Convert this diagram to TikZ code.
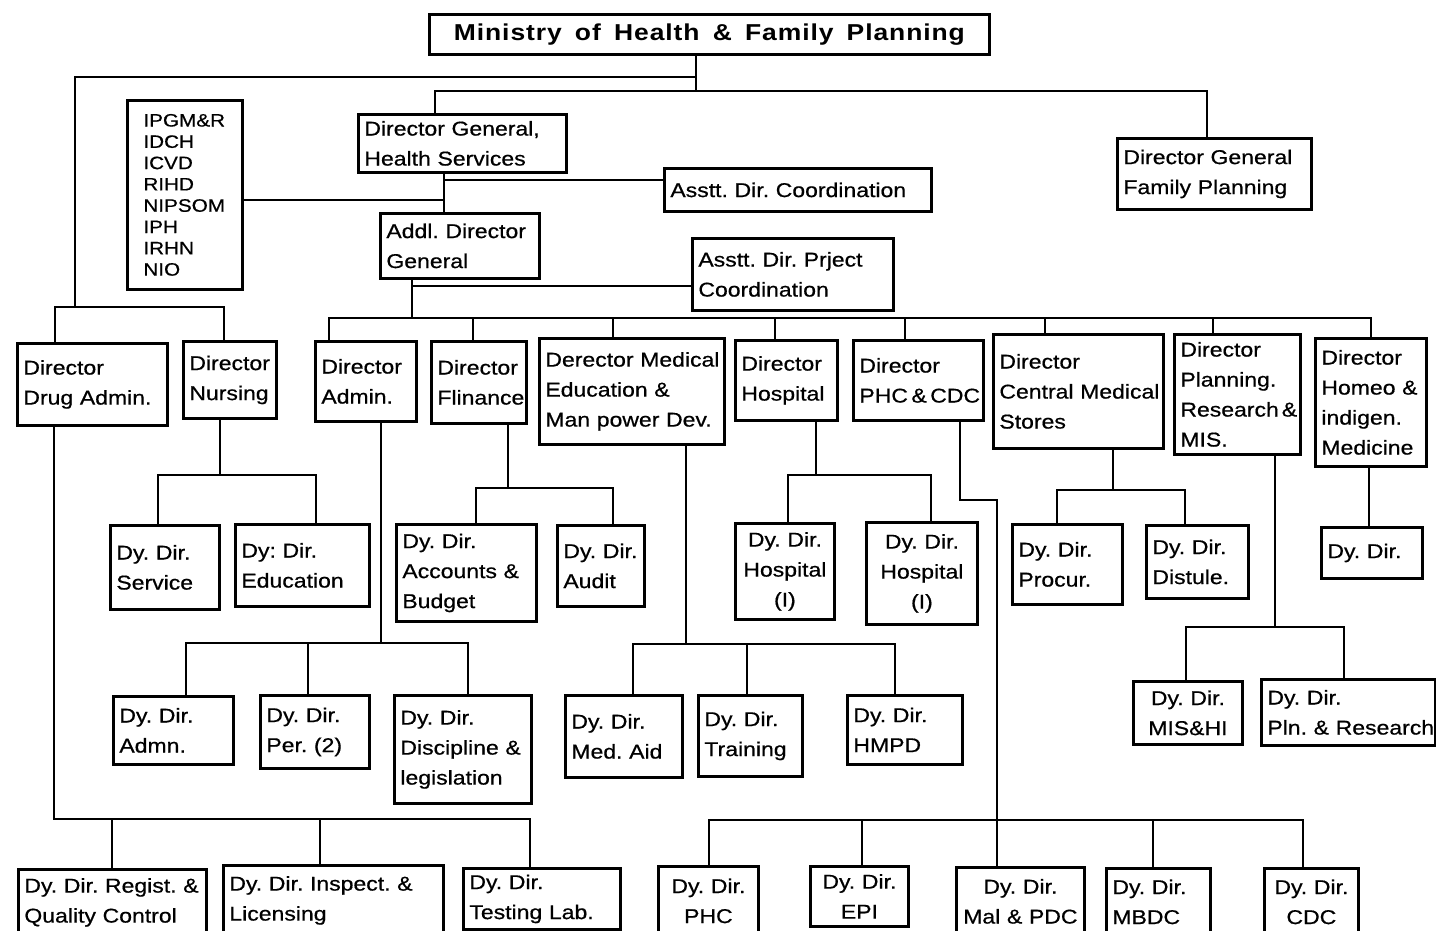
\documentclass[tikz,border=0pt]{standalone}
\usepackage{fontspec}
\setmainfont[FakeStretch=1.15,WordSpace=1.5,FakeBold=0.6]{Liberation Sans}
\newfontfamily\minfamily[FakeStretch=1.15,WordSpace=1.6,LetterSpace=4]{Liberation Sans}
\hyphenpenalty=10000 \exhyphenpenalty=10000
\newcommand\bfont{\fontsize{20}{30}\selectfont\hyphenpenalty=10000 }
\newcommand\ifont{\fontsize{18}{21.3}\selectfont}
\newcommand\mfont{\minfamily\bfseries\fontsize{23}{28}\selectfont}
\newcommand\mkbox[7]{%
  \pgfmathsetlengthmacro\mkW{(#4-#2)*1pt}%
  \pgfmathsetlengthmacro\mkH{(#5-#3)*1pt}%
  \pgfmathsetlengthmacro\mkT{(#4-#2-12)*1pt}%
  \node[bx,align=#6,minimum width=\mkW,minimum height=\mkH,text width=\mkT] (#1) at (#2,#3) {#7};}
\newcommand\dropto[4]{\coordinate (#1) at (#2,#3); \draw[ln] (#1) -- (#4.north -| #1);}
\begin{document}
\begin{tikzpicture}[x=1pt,y=-1pt,
  bx/.style={draw,line width=2.8pt,anchor=north west,inner ysep=0pt,inner xsep=6pt,font=\bfont},
  ln/.style={line width=2.6pt,line cap=rect}]
\useasboundingbox[fill=white] (0,0) rectangle (1436,931);
\clip (0,0) rectangle (1436,931);

% ---------- top ----------
\node[bx,font=\mfont,minimum width=560pt,minimum height=40pt,inner sep=0pt] (min) at (428,13) {Ministry~of~Health~\&~Family~Planning};
\mkbox{dghs}{357}{113}{565}{171}{left}{Director~General,\\Health~Services}
\mkbox{dgfp}{1116}{137}{1310}{208}{left}{Director~General\\Family~Planning}
\mkbox{adc}{663}{167}{930}{210}{left}{Asstt.~Dir.~Coordination}
\mkbox{addl}{379}{212}{538}{277}{left}{Addl.~Director\\General}
\mkbox{apc}{691}{237}{892}{309}{left}{Asstt.~Dir.~Prject\\Coordination}
\node[bx,font=\ifont,align=left,minimum width=115pt,minimum height=189pt,text width=83pt,inner xsep=16pt] (ipgm) at (126,99) {IPGM\&R\\IDCH\\ICVD\\RIHD\\NIPSOM\\IPH\\IRHN\\NIO};

% ---------- directors ----------
\mkbox{drug}{16}{342}{166}{424}{left}{Director\\Drug~Admin.}
\mkbox{nurs}{182}{340}{275}{417}{left}{Director\\Nursing}
\mkbox{adm}{314}{340}{415}{420}{left}{Director\\Admin.}
\mkbox{fin}{430}{340}{525}{422}{left}{Director\\Flinance}
\mkbox{med}{538}{337}{723}{443}{left}{Derector~Medical\\Education~\&\\Man~power~Dev.}
\mkbox{hosp}{734}{339}{836}{419}{left}{Director\\Hospital}
\mkbox{phc}{852}{339}{982}{419}{left}{Director\\\mbox{PHC\hspace{3.5pt}\&\hspace{3.5pt}CDC}}
\mkbox{cms}{992}{333}{1162}{447}{left}{Director\\Central~Medical\\Stores}
\mkbox{plan}{1173}{333}{1299}{453}{left}{Director\\Planning.\\\mbox{Research\hspace{3pt}\&}\\MIS.}
\mkbox{homeo}{1314}{337}{1425}{465}{left}{Director\\Homeo~\&\\indigen.\\Medicine}

% ---------- deputy directors ----------
\mkbox{svc}{109}{524}{218}{608}{left}{Dy.~Dir.\\Service}
\mkbox{edu}{234}{523}{368}{605}{left}{Dy:~Dir.\\Education}
\mkbox{acc}{395}{523}{535}{620}{left}{Dy.~Dir.\\Accounts~\&\\Budget}
\mkbox{aud}{556}{524}{643}{605}{left}{Dy.~Dir.\\Audit}
\mkbox{hd1}{734}{522}{833}{618}{center}{Dy.~Dir.\\Hospital\\(I)}
\mkbox{hd2}{865}{521}{976}{623}{center}{Dy.~Dir.\\Hospital\\(I)}
\mkbox{proc}{1011}{523}{1121}{603}{left}{Dy.~Dir.\\Procur.}
\mkbox{dist}{1145}{524}{1247}{597}{left}{Dy.~Dir.\\Distule.}
\mkbox{homdd}{1320}{526}{1421}{577}{left}{Dy.~Dir.}
\mkbox{admn}{112}{695}{232}{763}{left}{Dy.~Dir.\\Admn.}
\mkbox{per}{259}{694}{368}{767}{left}{Dy.~Dir.\\Per.~(2)}
\mkbox{disc}{393}{694}{530}{802}{left}{Dy.~Dir.\\Discipline~\&\\legislation}
\mkbox{maid}{564}{694}{681}{776}{left}{Dy.~Dir.\\Med.~Aid}
\mkbox{train}{697}{694}{801}{775}{left}{Dy.~Dir.\\Training}
\mkbox{hmpd}{846}{694}{961}{763}{left}{Dy.~Dir.\\HMPD}
\mkbox{mis}{1132}{680}{1241}{743}{center}{Dy.~Dir.\\MIS\&HI}
\mkbox{pln}{1260}{678}{1434}{744}{left}{Dy.~Dir.\\Pln.~\&~Research}
\mkbox{reg}{17}{868}{205}{934}{left}{Dy.~Dir.~Regist.~\&\\Quality~Control}
\mkbox{insp}{222}{864}{442}{934}{left}{Dy.~Dir.~Inspect.~\&\\Licensing}
\mkbox{test}{462}{867}{619}{928}{left}{Dy.~Dir.\\Testing~Lab.}
\mkbox{phcd}{657}{865}{757}{934}{center}{Dy.~Dir.\\PHC}
\mkbox{epi}{809}{865}{907}{925}{center}{Dy.~Dir.\\EPI}
\mkbox{mal}{955}{866}{1083}{934}{center}{Dy.~Dir.\\Mal~\&~PDC}
\mkbox{mbdc}{1105}{867}{1209}{934}{left}{Dy.~Dir.\\MBDC}
\mkbox{cdc}{1263}{867}{1357}{934}{center}{Dy.~Dir.\\CDC}

% ---------- connectors: top ----------
\coordinate (t91) at (696,91);
\coordinate (t77) at (696,77);
\draw[ln] (min.south -| t91) -- (t91);
\coordinate (tl) at (75,77);
\coordinate (tlb) at (75,307);
\draw[ln] (t77) -- (tl) -- (tlb);
\coordinate (lbL) at (55,307);
\coordinate (lbR) at (224,307);
\draw[ln] (drug.north -| lbL) -- (lbL) -- (lbR) -- (nurs.north -| lbR);
\coordinate (dgL) at (435,91);
\coordinate (dgR) at (1207,91);
\draw[ln] (dghs.north -| dgL) -- (dgL) -- (dgR) -- (dgfp.north -| dgR);
\coordinate (hs) at (444,180);
\coordinate (hs2) at (444,200);
\draw[ln] (dghs.south -| hs) -- (addl.north -| hs);
\draw[ln] (hs) -- (adc.west |- hs);
\draw[ln] (ipgm.east |- hs2) -- (hs2);
\coordinate (ad) at (412,286);
\coordinate (adB) at (412,318);
\draw[ln] (addl.south -| ad) -- (adB);
\draw[ln] (ad) -- (apc.west |- ad);
\coordinate (bL) at (329,318);
\coordinate (bR) at (1371,318);
\draw[ln] (adm.north -| bL) -- (bL) -- (bR) -- (homeo.north -| bR);
\dropto{dFin}{473}{318}{fin}
\dropto{dMed}{613}{318}{med}
\dropto{dHos}{775}{318}{hosp}
\dropto{dPhc}{905}{318}{phc}
\dropto{dCms}{1045}{318}{cms}
\dropto{dPln}{1213}{318}{plan}

% ---------- nursing ----------
\coordinate (nu) at (220,475);
\draw[ln] (nurs.south -| nu) -- (nu);
\coordinate (nuL) at (158,475);
\coordinate (nuR) at (316,475);
\draw[ln] (svc.north -| nuL) -- (nuL) -- (nuR) -- (edu.north -| nuR);

% ---------- finance ----------
\coordinate (fi) at (508,488);
\draw[ln] (fin.south -| fi) -- (fi);
\coordinate (fiL) at (476,488);
\coordinate (fiR) at (613,488);
\draw[ln] (acc.north -| fiL) -- (fiL) -- (fiR) -- (aud.north -| fiR);

% ---------- admin ----------
\coordinate (am) at (381,643);
\draw[ln] (adm.south -| am) -- (am);
\coordinate (amL) at (186,643);
\coordinate (amR) at (468,643);
\draw[ln] (admn.north -| amL) -- (amL) -- (amR) -- (disc.north -| amR);
\dropto{amM}{308}{643}{per}

% ---------- medical education ----------
\coordinate (me) at (686,644);
\draw[ln] (med.south -| me) -- (me);
\coordinate (meL) at (633,644);
\coordinate (meR) at (895,644);
\draw[ln] (maid.north -| meL) -- (meL) -- (meR) -- (hmpd.north -| meR);
\dropto{meM}{747}{644}{train}

% ---------- hospital ----------
\coordinate (ho) at (816,475);
\draw[ln] (hosp.south -| ho) -- (ho);
\coordinate (hoL) at (788,475);
\coordinate (hoR) at (931,475);
\draw[ln] (hd1.north -| hoL) -- (hoL) -- (hoR) -- (hd2.north -| hoR);

% ---------- PHC & CDC ----------
\coordinate (p1) at (960,500);
\coordinate (p2) at (997,500);
\draw[ln] (phc.south -| p1) -- (p1) -- (p2) -- (mal.north -| p2);
\coordinate (pbL) at (709,820);
\coordinate (pbR) at (1303,820);
\draw[ln] (phcd.north -| pbL) -- (pbL) -- (pbR) -- (cdc.north -| pbR);
\dropto{pEpi}{862}{820}{epi}
\dropto{pMb}{1153}{820}{mbdc}

% ---------- central medical stores ----------
\coordinate (cm) at (1113,490);
\draw[ln] (cms.south -| cm) -- (cm);
\coordinate (cmL) at (1057,490);
\coordinate (cmR) at (1185,490);
\draw[ln] (proc.north -| cmL) -- (cmL) -- (cmR) -- (dist.north -| cmR);

% ---------- planning ----------
\coordinate (pl) at (1275,627);
\draw[ln] (plan.south -| pl) -- (pl);
\coordinate (plL) at (1186,627);
\coordinate (plR) at (1344,627);
\draw[ln] (mis.north -| plL) -- (plL) -- (plR) -- (pln.north -| plR);

% ---------- homeo ----------
\coordinate (hm) at (1369,500);
\draw[ln] (homeo.south -| hm) -- (homdd.north -| hm);

% ---------- drug admin ----------
\coordinate (dr) at (54,819);
\coordinate (drR) at (530,819);
\draw[ln] (drug.south -| dr) -- (dr) -- (drR) -- (test.north -| drR);
\dropto{dReg}{112}{819}{reg}
\dropto{dIns}{320}{819}{insp}
\end{tikzpicture}
\end{document}
